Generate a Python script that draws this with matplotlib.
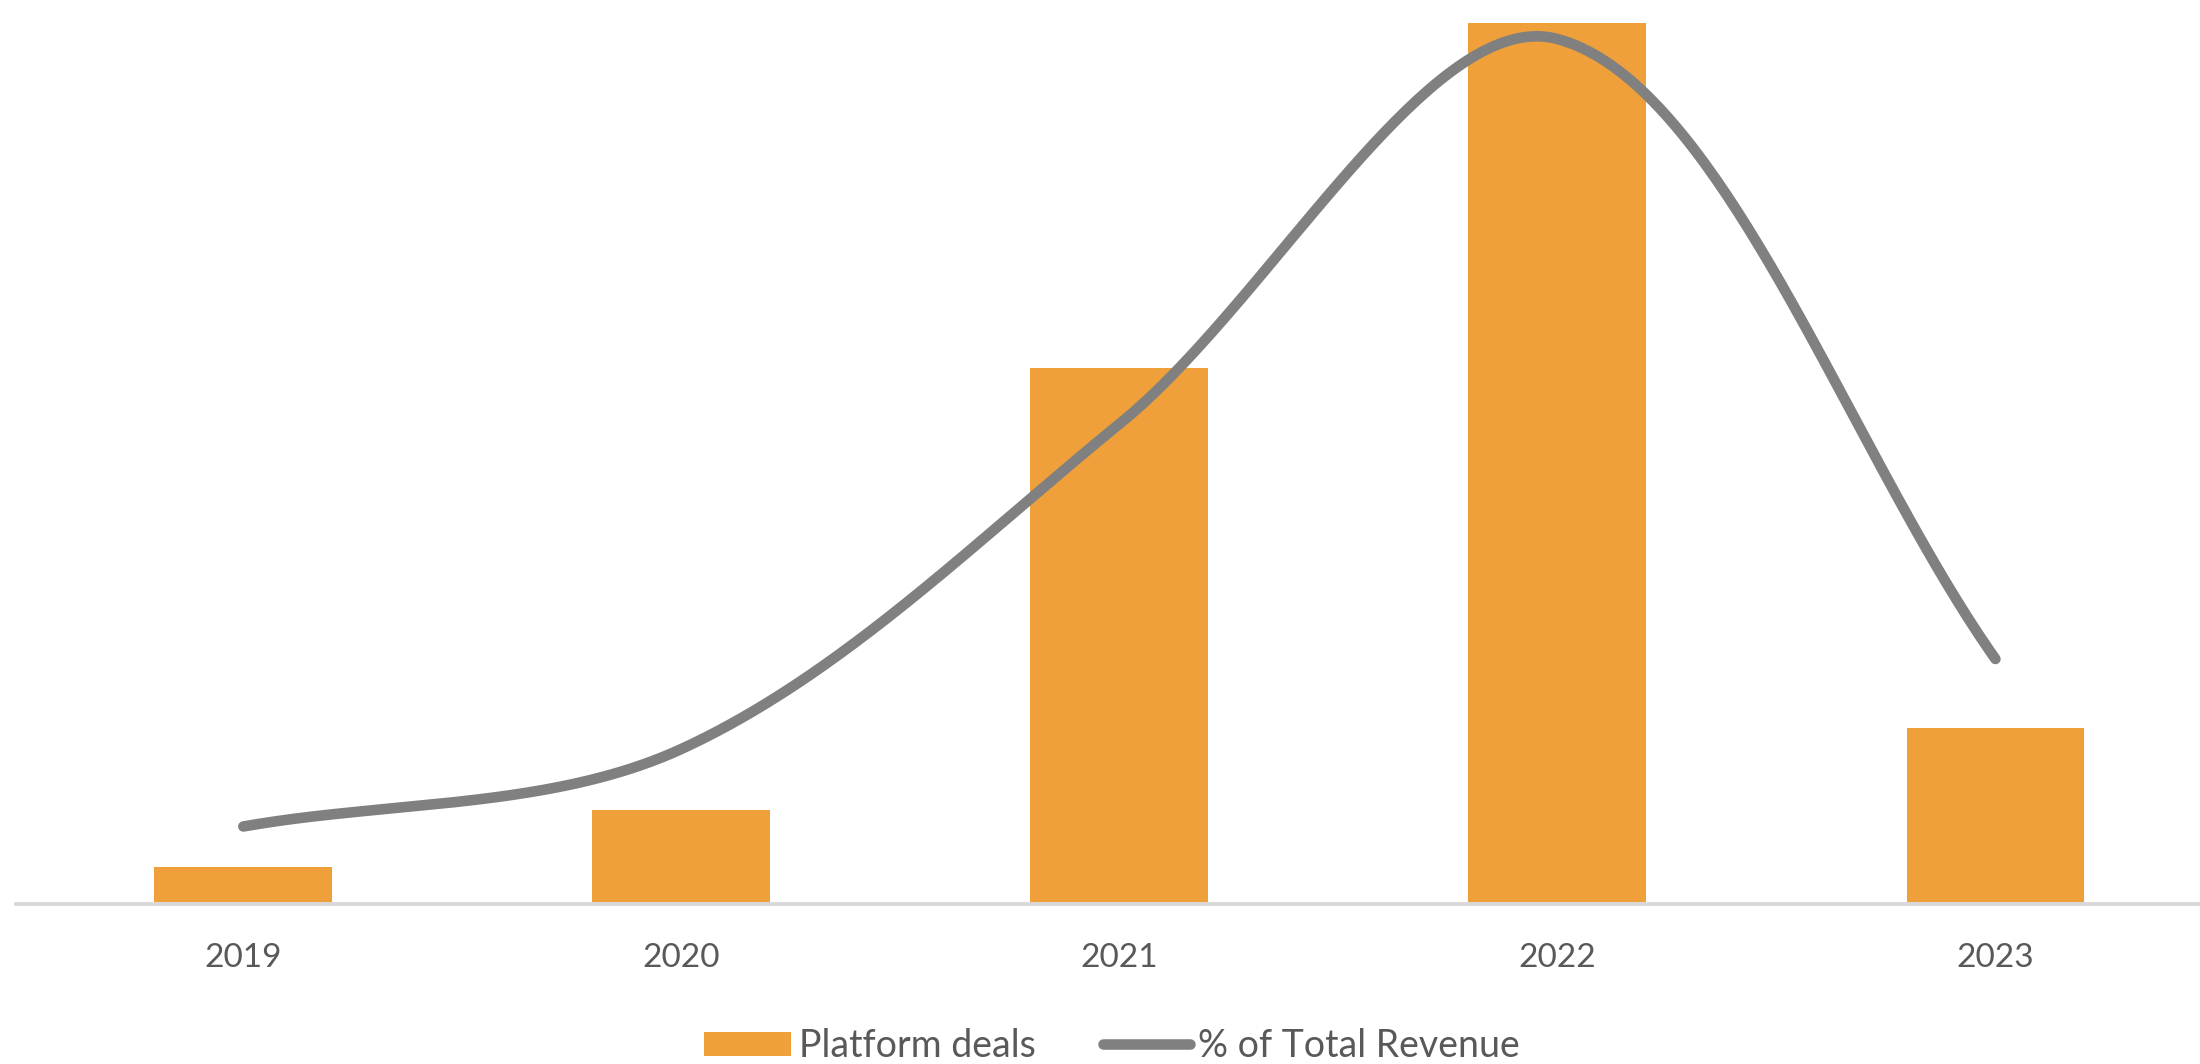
import numpy as np
import matplotlib
matplotlib.use("Agg")
import matplotlib.pyplot as plt
from matplotlib.patches import Patch
from matplotlib.lines import Line2D

years = ["2019", "2020", "2021", "2022", "2023"]
platform_deals = [3.7, 9.4, 53.6, 88.1, 17.6]
pct_total_revenue = [3.1, 6.2, 19.2, 34.6, 9.8]

BAR_COLOR = "#EFA03A"
LINE_COLOR = "#808080"
TEXT_COLOR = "#595959"

plt.rcParams['font.family'] = ['Lato', 'DejaVu Sans']

fig = plt.figure(figsize=(11, 5.32), dpi=200)
ax = fig.add_axes([16/2200, 1 - 904/1064, 1 - 16/2200, 904/1064])
x = np.arange(len(years))
ax.bar(x, platform_deals, width=0.406, color=BAR_COLOR, zorder=2)
ax.set_xlim(-0.519, 4.467)
ax.set_ylim(0, 90.4)
for s in ["top", "right", "left"]:
    ax.spines[s].set_visible(False)
ax.spines["bottom"].set_color("#D9D9D9")
ax.spines["bottom"].set_linewidth(1.4)
ax.set_yticks([])
ax.set_xticks(x)
ax.set_xticklabels(years, fontsize=12, color=TEXT_COLOR)
ax.tick_params(axis="x", length=0, pad=14)

# smoothed line (Excel-style Bezier smoothing, computed in screen space) on secondary axis
ax2 = ax.twinx()
ax2.set_xlim(ax.get_xlim())
ax2.set_ylim(0, 36.16)
ax2.set_yticks([])
for s in ax2.spines.values():
    s.set_visible(False)

P = ax2.transData.transform(np.column_stack([x.astype(float),
                                             np.array(pct_total_revenue, float)]))
curve = []
n = len(P)
for i in range(n - 1):
    p0 = P[i - 1] if i > 0 else P[i]
    p1 = P[i]
    p2 = P[i + 1]
    p3 = P[i + 2] if i + 2 < n else P[i + 1]
    d01 = np.hypot(*(p1 - p0)); d12 = np.hypot(*(p2 - p1)); d23 = np.hypot(*(p3 - p2))
    f1 = d12 / (d01 + d12) / 3.0
    f2 = d12 / (d12 + d23) / 3.0
    c1 = p1 + (p2 - p0) * f1
    c2 = p2 - (p3 - p1) * f2
    t = np.linspace(0, 1, 80)[:, None]
    seg = (1 - t) ** 3 * p1 + 3 * (1 - t) ** 2 * t * c1 + 3 * (1 - t) * t ** 2 * c2 + t ** 3 * p2
    curve.append(seg if i == 0 else seg[1:])
curve = ax2.transData.inverted().transform(np.vstack(curve))
ax2.plot(curve[:, 0], curve[:, 1], color=LINE_COLOR, lw=3.8,
         solid_capstyle="round", clip_on=False, zorder=3)

handles = [Patch(facecolor=BAR_COLOR, edgecolor="none", label="Platform deals"),
           Line2D([0], [0], color=LINE_COLOR, lw=3.8, solid_capstyle="round",
                  label="% of Total Revenue")]
fig.legend(handles=handles, loc="center", bbox_to_anchor=(1112/2200, 1 - 1046/1064),
           ncol=2, frameon=False, fontsize=13.5, labelcolor=TEXT_COLOR,
           handlelength=2.3, handletextpad=0.22, columnspacing=1.8, handleheight=0.6)

fig.savefig("out.png", dpi=200)
